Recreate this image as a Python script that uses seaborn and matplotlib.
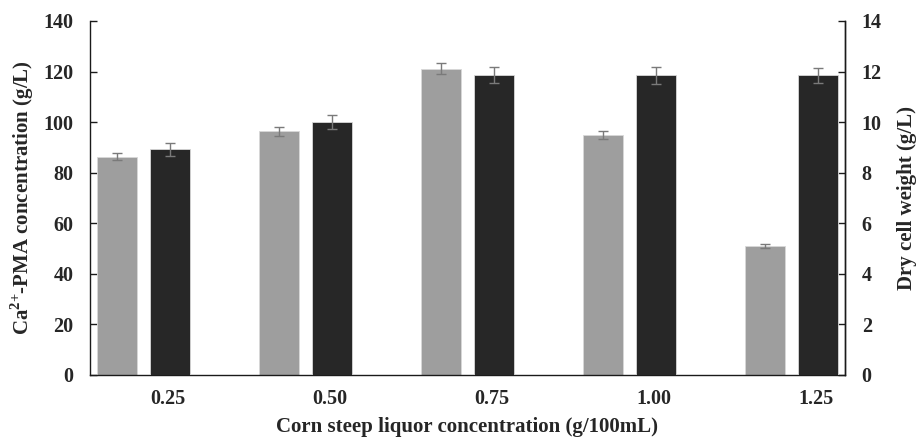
import numpy as np
import pandas as pd
import seaborn as sns
import matplotlib.pyplot as plt

# Corn steep liquor concentration (g/100mL)
csl_levels = ["0.25", "0.50", "0.75", "1.00", "1.25"]
# Ca2+-PMA concentration (g/L) and its standard deviation
pma_conc = [86.4, 96.3, 121.2, 94.9, 51.0]
pma_err = [1.5, 1.8, 2.1, 1.7, 0.8]
# Dry cell weight (g/L) and its standard deviation
dcw = [8.92, 10.0, 11.86, 11.85, 11.86]
dcw_err = [0.25, 0.28, 0.33, 0.33, 0.30]

series_order = ["Ca2+-PMA", "DCW"]
palette = {"Ca2+-PMA": "#9e9e9e", "DCW": "#272727"}

pma_df = pd.DataFrame({"csl": csl_levels, "value": pma_conc, "series": "Ca2+-PMA"})
dcw_df = pd.DataFrame({"csl": csl_levels, "value": dcw, "series": "DCW"})

sns.set_style("white")
plt.rcParams["font.family"] = ["Liberation Serif", "DejaVu Serif"]
plt.rcParams["font.weight"] = "bold"
plt.rcParams["mathtext.fontset"] = "custom"
plt.rcParams["mathtext.rm"] = "Liberation Serif:bold"
plt.rcParams["mathtext.bf"] = "Liberation Serif:bold"

fig = plt.figure(figsize=(9.17, 4.42), dpi=100)
ax = fig.add_axes([90 / 917, 67 / 442, 755 / 917, 354 / 442])
ax2 = ax.twinx()

# each series keeps its own slot within a group, on its own y axis
common = dict(x="csl", y="value", hue="series", hue_order=series_order,
              order=csl_levels, palette=palette, width=0.66, gap=0.26,
              dodge=True, errorbar=None, edgecolor="#d8d8d8", linewidth=0.6,
              legend=False)
sns.barplot(data=pma_df, ax=ax, **common)
sns.barplot(data=dcw_df, ax=ax2, **common)

err_kw = dict(fmt="none", ecolor="#7a7a7a", elinewidth=1.0, capsize=3.5, capthick=1.0, zorder=5)
for axis, vals, errs in ((ax, pma_conc, pma_err), (ax2, dcw, dcw_err)):
    bars = sorted(axis.patches, key=lambda p: p.get_x())
    xs = [b.get_x() + b.get_width() / 2 for b in bars]
    axis.errorbar(xs, vals, yerr=errs, **err_kw)

ax.set_xlim(-0.33, 4.33)
ax.set_ylim(0, 140)
ax2.set_ylim(0, 14)
ax.set_yticks(np.arange(0, 141, 20))
ax2.set_yticks(np.arange(0, 15, 2))
ax.set_xticks(np.arange(len(csl_levels)) + 0.15)
ax.set_xticklabels(csl_levels)

for a in (ax, ax2):
    for s in a.spines.values():
        s.set_color("#1a1a1a")
        s.set_linewidth(1.0)
    a.spines["top"].set_visible(False)
ax.spines["right"].set_visible(True)
ax2.spines["left"].set_visible(False)
ax2.spines["bottom"].set_visible(False)

fs_tick = 14.5
fs_lab = 15
ax.tick_params(axis="x", length=0, pad=10, labelsize=fs_tick)
ax.tick_params(axis="y", direction="in", length=5, width=1, color="#1a1a1a",
               labelsize=fs_tick, pad=12, left=True)
ax2.tick_params(axis="y", direction="in", length=5, width=1, color="#1a1a1a",
                labelsize=fs_tick, pad=12, right=True)
for lab in ax.get_xticklabels() + ax.get_yticklabels() + ax2.get_yticklabels():
    lab.set_fontweight("bold")

ax.set_xlabel("Corn steep liquor concentration (g/100mL)", fontsize=fs_lab,
              fontweight="bold", labelpad=6)
ax.set_ylabel(r"Ca$^{\mathbf{2{+}}}$-PMA concentration (g/L)", fontsize=fs_lab,
              fontweight="bold", labelpad=5)
ax2.set_ylabel("Dry cell weight (g/L)", fontsize=fs_lab, fontweight="bold", labelpad=11)
ax.grid(False)
ax2.grid(False)

fig.savefig("out.png", dpi=100)
